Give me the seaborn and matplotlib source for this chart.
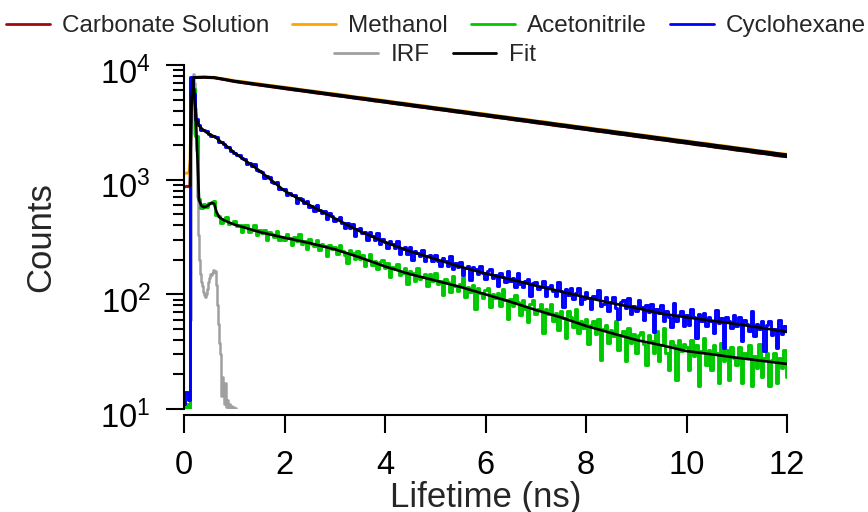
import numpy as np
import matplotlib
matplotlib.use("Agg")
import matplotlib.pyplot as plt
from matplotlib.lines import Line2D
from matplotlib.ticker import LogLocator, NullLocator, FixedLocator
from matplotlib.transforms import ScaledTranslation
import seaborn as sns

# ---------------------------------------------------------------------------
# Time-correlated single photon counting decays (counts per 0.05 ns bin)
# ---------------------------------------------------------------------------
t_bins = np.round(np.arange(241) * 0.05, 2)          # 0.00 ... 12.00 ns

cyclohexane = [
    11, 14, 12, 7900, 5600, 3350, 2970, 2736, 2726, 2664, 2478, 2391, 2391, 2358, 2117, 2135, 2040, 1926, 1942, 1791,
    1720, 1628, 1657, 1535, 1527, 1383, 1411, 1317, 1369, 1214, 1196, 1178, 1037, 1077, 1062, 959, 931, 960, 836, 836,
    825, 734, 764, 728, 742, 629, 690, 679, 621, 655, 578, 589, 538, 603, 539, 515, 528, 456, 512, 484,
    439, 455, 474, 423, 381, 422, 381, 410, 321, 372, 376, 341, 350, 296, 353, 322, 297, 344, 277, 302,
    287, 256, 291, 277, 256, 292, 227, 250, 258, 226, 259, 199, 240, 229, 216, 243, 197, 218, 222, 195,
    222, 197, 175, 208, 196, 176, 218, 167, 186, 173, 190, 148, 169, 176, 133, 174, 166, 150, 178, 153,
    137, 159, 167, 140, 148, 118, 154, 141, 129, 159, 131, 139, 116, 155, 123, 116, 132, 136, 96, 125,
    129, 111, 116, 130, 96, 117, 121, 108, 97, 128, 108, 78, 111, 99, 114, 91, 103, 113, 83, 91,
    105, 92, 74, 97, 93, 109, 79, 83, 94, 72, 85, 94, 76, 61, 86, 89, 76, 92, 67, 79,
    71, 90, 77, 60, 80, 70, 82, 47, 74, 69, 80, 59, 72, 64, 52, 84, 58, 66, 71, 53,
    66, 54, 75, 63, 42, 68, 58, 69, 53, 63, 59, 46, 73, 56, 62, 34, 64, 58, 51, 66,
    53, 63, 39, 60, 55, 48, 71, 43, 55, 50, 58, 32, 54, 59, 44, 50, 34, 60, 45, 53,
    49,
]

acetonitrile = [
    9, 11, 10, 6800, 6200, 2400, 675, 568, 608, 577, 630, 624, 655, 494, 482, 423, 457, 473, 411, 419,
    432, 391, 399, 352, 400, 406, 351, 366, 401, 329, 361, 340, 363, 296, 349, 336, 315, 354, 296, 318,
    298, 337, 313, 272, 317, 291, 333, 273, 292, 248, 303, 276, 263, 300, 242, 274, 264, 214, 271, 248,
    261, 223, 269, 239, 220, 186, 243, 229, 202, 237, 205, 221, 177, 199, 227, 181, 194, 166, 191, 198,
    169, 187, 141, 174, 165, 185, 147, 154, 171, 122, 160, 152, 132, 170, 136, 141, 150, 118, 150, 130,
    152, 122, 132, 98, 137, 129, 105, 144, 118, 107, 123, 141, 95, 115, 104, 120, 75, 113, 103, 93,
    110, 113, 78, 100, 92, 102, 79, 112, 90, 61, 91, 79, 98, 85, 66, 90, 75, 57, 82, 90,
    68, 74, 83, 46, 75, 67, 83, 58, 69, 49, 71, 62, 42, 72, 63, 52, 75, 46, 58, 51,
    61, 37, 54, 58, 45, 61, 27, 50, 54, 38, 49, 43, 59, 33, 44, 48, 26, 51, 38, 45,
    31, 44, 47, 37, 24, 44, 39, 31, 48, 26, 36, 51, 31, 22, 39, 36, 18, 40, 32, 37,
    35, 22, 40, 29, 36, 16, 32, 42, 24, 33, 22, 36, 31, 17, 38, 26, 33, 18, 35, 28,
    24, 35, 17, 31, 28, 36, 16, 29, 23, 37, 19, 28, 31, 16, 27, 31, 17, 28, 23, 33,
    19,
]

# Long-lived emitters, sampled every 0.2 ns after the rise
t_slow = [0.0, 0.05, 0.10, 0.12, 0.15, 0.18] + list(np.round(np.arange(1, 61) * 0.2, 2))

methanol = [
    1130, 1142, 1136, 1500, 5200, 7700,
    7820, 7880, 7800, 7560, 7300, 7120, 6930, 6740, 6560, 6400,
    6230, 6040, 5910, 5720, 5600, 5450, 5270, 5170, 5010, 4900,
    4740, 4640, 4490, 4400, 4250, 4170, 4030, 3950, 3820, 3740,
    3620, 3545, 3430, 3360, 3250, 3185, 3080, 3015, 2920, 2860,
    2765, 2710, 2620, 2565, 2480, 2430, 2355, 2305, 2228, 2185,
    2110, 2070, 2000, 1960, 1895, 1858, 1796, 1760, 1700, 1668,
]

carbonate = [
    860, 875, 868, 880, 4600, 7500,
    7760, 7800, 7730, 7470, 7180, 6970, 6770, 6580, 6400, 6220,
    6040, 5900, 5720, 5585, 5410, 5290, 5125, 5005, 4850, 4740,
    4595, 4485, 4345, 4248, 4115, 4020, 3895, 3808, 3688, 3605,
    3490, 3412, 3305, 3230, 3128, 3058, 2960, 2895, 2803, 2741,
    2652, 2595, 2510, 2457, 2376, 2326, 2249, 2202, 2129, 2085,
    2015, 1974, 1907, 1869, 1805, 1770, 1708, 1676, 1617, 1586,
]

# Instrument response function (0.02 ns bins)
t_irf = np.round(np.arange(53) * 0.02, 2)
irf = [
    3, 3, 4, 4, 5, 8, 60, 2500, 7800, 8300, 7000, 4200, 1800, 700, 330, 200, 150, 128, 118, 105,
    98, 95, 100, 112, 128, 140, 150, 148, 155, 162, 158, 160, 120, 80, 55, 38, 30, 13, 19, 15,
    11, 17, 10.5, 12, 10.4, 11, 10.3, 10.6, 10.2, 10.4, 10.2, 10.3, 6,
]

# Reconvolution fits
t_fit = [0.18, 0.2, 0.25, 0.3, 0.35, 0.4, 0.45, 0.5, 0.55, 0.6, 0.65, 0.7, 0.75, 0.8, 0.9,
         1.0, 1.25, 1.5, 1.75, 2.0, 2.5, 3.0, 3.5, 4.0, 4.5, 5.0, 5.5, 6.0, 6.5, 7.0, 7.5,
         8.0, 8.5, 9.0, 9.5, 10.0, 10.5, 11.0, 11.5, 12.0]
fit_cyclohexane = [7600, 5600, 3350, 2950, 2800, 2680, 2580, 2500, 2440, 2380, 2300, 2200, 2110, 2040, 1880,
                   1720, 1437, 1200, 980, 800, 600, 460, 355, 285, 237, 203, 174, 152, 135, 119, 106,
                   94, 84, 76, 68, 63, 59, 55, 51, 47]
fit_acetonitrile = [6600, 6200, 2400, 660, 590, 575, 585, 605, 630, 615, 520, 472, 455, 442, 423,
                    406, 377, 350, 330, 312, 280, 247, 210, 175, 150, 132, 116, 100, 86, 73, 63,
                    53, 46, 40, 36, 32, 30, 28, 26.3, 24.7]

t_fit_slow = [0.12, 0.15, 0.18, 0.2, 0.4, 0.6, 0.8, 1.0, 1.5, 2, 3, 4, 5, 6, 7, 8, 9, 10, 11, 12]
fit_methanol = [1150, 5000, 7700, 7800, 7850, 7780, 7520, 7260, 6780, 6350, 5550, 4850, 4240,
                3705, 3240, 2830, 2475, 2160, 1890, 1650]
fit_carbonate = [880, 4600, 7500, 7760, 7810, 7740, 7470, 7180, 6690, 6230, 5430, 4730, 4125,
                 3600, 3140, 2735, 2385, 2080, 1815, 1585]

x_ticks = [0, 2, 4, 6, 8, 10, 12]
y_ticks = [10, 100, 1000, 10000]
legend_row1 = ["Carbonate Solution", "Methanol", "Acetonitrile", "Cyclohexane"]
legend_row2 = ["IRF", "Fit"]

colors = {
    "Carbonate Solution": "#A00A0A",
    "Methanol": "#FFA500",
    "Acetonitrile": "#00C800",
    "Cyclohexane": "#0000FF",
    "IRF": "#A0A0A0",
    "Fit": "#000000",
}

# ---------------------------------------------------------------------------
sns.set_style("ticks")
plt.rcParams["font.family"] = ["Liberation Sans", "DejaVu Sans"]
plt.rcParams["mathtext.fontset"] = "custom"
plt.rcParams["mathtext.rm"] = "Liberation Sans"
plt.rcParams["mathtext.it"] = "Liberation Sans:italic"
plt.rcParams["mathtext.bf"] = "Liberation Sans:bold"

fig = plt.figure(figsize=(8.68, 5.12), dpi=100, facecolor="white")
ax = fig.add_axes([184 / 868, 1 - 409 / 512, (787 - 184) / 868, (409 - 65) / 512])
ax.set_yscale("log")

lw_data = 2.1
common = dict(ax=ax, estimator=None, sort=False, legend=False)
sns.lineplot(x=t_slow, y=carbonate, color=colors["Carbonate Solution"], lw=lw_data, **common)
sns.lineplot(x=t_slow, y=methanol, color=colors["Methanol"], lw=lw_data, **common)
sns.lineplot(x=t_irf, y=irf, color=colors["IRF"], lw=1.8, drawstyle="steps-mid", **common)
sns.lineplot(x=t_bins, y=acetonitrile, color=colors["Acetonitrile"], lw=lw_data,
             drawstyle="steps-mid", **common)
sns.lineplot(x=t_bins, y=cyclohexane, color=colors["Cyclohexane"], lw=lw_data,
             drawstyle="steps-mid", **common)
for tf, yf in [(t_fit_slow, fit_carbonate), (t_fit_slow, fit_methanol),
               (t_fit, fit_acetonitrile), (t_fit, fit_cyclohexane)]:
    sns.lineplot(x=tf, y=yf, color=colors["Fit"], lw=1.9, **common)

ax.set_xlim(0, 12)
ax.set_ylim(10, 1e4)

# Axes styling
for side in ["top", "right"]:
    ax.spines[side].set_visible(False)
for side in ["left", "bottom"]:
    ax.spines[side].set_linewidth(1.5)
    ax.spines[side].set_color("black")
ax.spines["bottom"].set_position(("outward", 4.5))

ax.xaxis.set_major_locator(FixedLocator(x_ticks))
ax.xaxis.set_minor_locator(NullLocator())
ax.yaxis.set_major_locator(FixedLocator(y_ticks))
ax.yaxis.set_minor_locator(LogLocator(base=10, subs=np.arange(2, 10), numticks=10))
ax.tick_params(axis="both", which="major", length=13, width=1.5, color="black",
               labelsize=23.5, labelcolor="black", direction="out")
ax.tick_params(axis="y", which="minor", length=8, width=1.5, color="black", direction="out")
ax.tick_params(axis="y", which="major", pad=11)
ax.tick_params(axis="x", which="major", pad=12)

# decade labels sit slightly below their ticks
shift_down = ScaledTranslation(0, -0.05, fig.dpi_scale_trans)
for tick in ax.yaxis.get_major_ticks():
    tick.label1.set_transform(tick.label1.get_transform() + shift_down)

ax.set_xlabel("Lifetime (ns)", fontsize=25)
ax.set_ylabel("Counts", fontsize=25)
ax.xaxis.label.set_verticalalignment("center")
ax.xaxis.set_label_coords(0.5, (409 - 497) / 344)
ax.yaxis.label.set_verticalalignment("center")
ax.yaxis.set_label_coords((41 - 184) / 603, 0.5)

# Two-row legend above the plot
def handles(names):
    return [Line2D([0], [0], color=colors[n], lw=2.0) for n in names]

leg_kw = dict(frameon=False, fontsize=17.5, handlelength=1.8, handletextpad=0.5,
              columnspacing=0.95, borderpad=0, borderaxespad=0, loc="center")
fig.legend(handles(legend_row1), legend_row1, ncol=4,
           bbox_to_anchor=(436 / 868, 1 - 26 / 512), **leg_kw)
fig.legend(handles(legend_row2), legend_row2, ncol=2,
           bbox_to_anchor=(435 / 868, 1 - 55 / 512), **leg_kw)

fig.savefig("out.png", dpi=100, facecolor="white")
